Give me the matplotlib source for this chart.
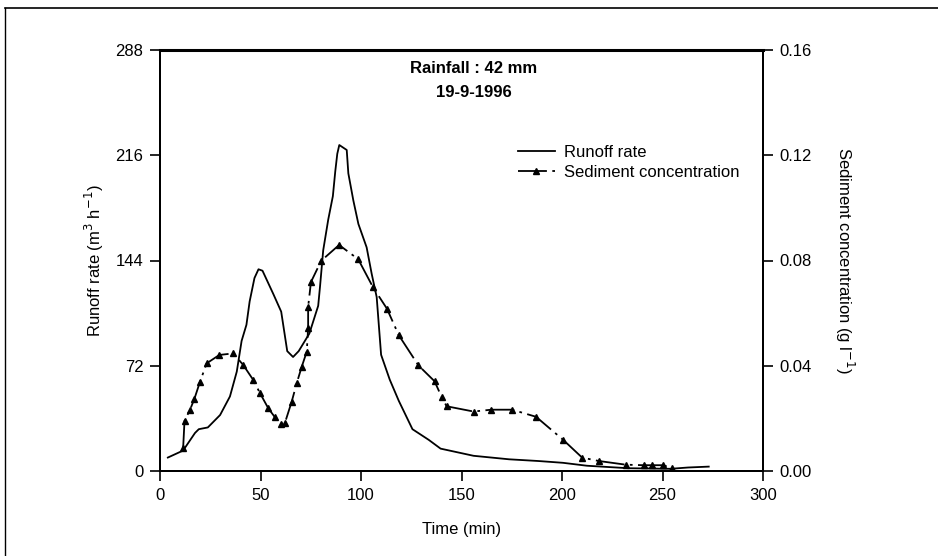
import matplotlib

matplotlib.use("Agg")

import matplotlib.pyplot as plt
from matplotlib.lines import Line2D

plt.rcParams["font.family"] = ["Liberation Sans", "DejaVu Sans"]

# runoff hydrograph (min, m3/h)
runoff_time = [3.9, 11.5, 17.4, 19.3, 23.8, 29.9, 34.8, 38.2, 40.6, 43.0, 44.6, 47.0, 49.0, 51.0,
               56.4, 60.3, 63.3, 66.2, 69.0, 74.3, 78.7, 79.6, 81.2, 83.7, 86.0, 87.2, 88.2, 89.2,
               92.9, 93.7, 96.2, 98.7, 102.8, 105.3, 107.8, 110.0, 114.3, 118.8, 125.6, 133.7,
               139.6, 156.0, 173.7, 188.6, 200.5, 212.4, 233.0, 254.0, 262.8, 273.0]
runoff_rate = [9.2, 14.0, 26.0, 28.6, 29.8, 38.3, 51.0, 68.0, 89.0, 100.0, 116.0, 132.0, 138.0, 137.0,
               121.0, 109.0, 82.0, 78.0, 82.0, 94.0, 113.0, 126.0, 151.0, 172.0, 188.0, 205.0, 217.0, 223.0,
               219.6, 203.6, 185.0, 169.0, 153.0, 135.0, 119.0, 79.5, 62.5, 48.0, 28.6, 21.3,
               15.3, 10.4, 8.0, 6.8, 5.6, 3.6, 1.9, 1.5, 2.4, 3.0]

# sediment concentration (min, g/l)
sed_time = [11.5, 12.2, 14.9, 17.1, 19.9, 23.2, 29.5, 36.5, 41.4, 46.4, 49.8, 53.9, 57.2, 60.0,
            62.2, 65.5, 68.0, 70.5, 73.0, 73.7, 73.7, 75.1, 80.2, 89.1, 98.6, 106.0, 112.9,
            118.8, 128.6, 136.6, 140.2, 142.6, 156.0, 164.8, 175.2, 187.1, 200.5, 210.0,
            218.3, 231.7, 240.6, 245.0, 250.4, 254.5]
sed_conc = [0.0086, 0.0191, 0.0232, 0.0274, 0.0339, 0.0409, 0.0441, 0.0447, 0.0403, 0.0346, 0.0295,
            0.0238, 0.0204, 0.0177, 0.0184, 0.0263, 0.0333, 0.0396, 0.0453, 0.0543, 0.0624, 0.0718,
            0.0799, 0.0859, 0.0805, 0.0698, 0.0617, 0.0516, 0.0401, 0.0341, 0.0280, 0.0246,
            0.0226, 0.0233, 0.0233, 0.0206, 0.0119, 0.0051, 0.0038, 0.0024, 0.0022, 0.0022,
            0.0022, 0.0011]

left_ticks = [0, 72, 144, 216, 288]
right_ticks = [0.00, 0.04, 0.08, 0.12, 0.16]
x_ticks = [0, 50, 100, 150, 200, 250, 300]

FS = 12

fig = plt.figure(figsize=(9.38, 5.56), dpi=100, facecolor="white")
ax = fig.add_axes([160 / 938, 1 - 471 / 556, 603 / 938, 421 / 556])
ax2 = ax.twinx()

line1, = ax.plot(runoff_time, runoff_rate, color="black", linewidth=1.3)
line2, = ax2.plot(sed_time, sed_conc, color="black", linewidth=1.3, marker="^", markersize=4.5,
                  dashes=(16, 3, 1.5, 3))

ax.set_xlim(0, 300)
ax.set_ylim(0, 288)
ax2.set_ylim(0, 0.16)
ax.set_xticks(x_ticks)
ax.set_yticks(left_ticks)
ax2.set_yticks(right_ticks)
ax2.set_yticklabels([f"{v:.2f}" for v in right_ticks])

for a in (ax, ax2):
    for spine in a.spines.values():
        spine.set_linewidth(1.4)
    a.tick_params(direction="out", length=7, width=1.2, labelsize=FS, colors="black", pad=5)
ax.spines["top"].set_linewidth(2.2)

ax.set_xlabel("Time (min)", fontsize=FS, labelpad=14)
ax.set_ylabel("Runoff rate (m$^3$ h$^{-1}$)", fontsize=FS, labelpad=7)
ax2.set_ylabel("Sediment concentration (g l$^{-1}$)", fontsize=FS, rotation=270, labelpad=32)

ax.text(0.52, 0.955, "Rainfall : 42 mm", transform=ax.transAxes, ha="center", va="center",
        fontsize=FS, fontweight="bold")
ax.text(0.52, 0.9, "19-9-1996", transform=ax.transAxes, ha="center", va="center",
        fontsize=FS, fontweight="bold")

ax2.legend([line1, line2], ["Runoff rate", "Sediment concentration"], loc="upper left",
           bbox_to_anchor=(503 / 938, 1 - 130 / 556), bbox_transform=fig.transFigure,
           frameon=False, fontsize=FS, handlelength=2.2, handletextpad=0.55, labelspacing=0.3)

# scanned page frame
fig.add_artist(Line2D([5 / 938, 1], [1 - 8 / 556, 1 - 8 / 556], transform=fig.transFigure,
                      color="black", linewidth=1.2))
fig.add_artist(Line2D([5 / 938, 5 / 938], [0, 1 - 8 / 556], transform=fig.transFigure,
                      color="black", linewidth=1.0))

fig.savefig("out.png", dpi=100, facecolor="white")
